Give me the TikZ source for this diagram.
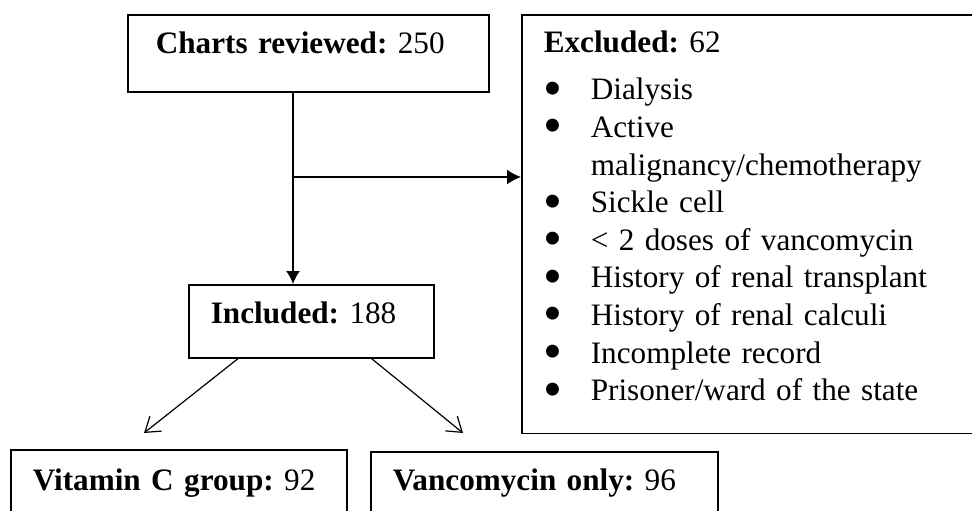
\documentclass[tikz,border=0pt]{standalone}
\usepackage{fontspec}
\setmainfont{Liberation Serif}
\usetikzlibrary{arrows.meta}
\frenchspacing
\newcommand{\xbul}{\makebox[23.5pt][l]{\smash{\raisebox{-3.2pt}{\fontsize{27pt}{0pt}\selectfont\textbullet}}}}

\begin{document}
\begin{tikzpicture}[x=0.5pt, y=-0.5pt, line width=0.8pt,
                    main/.style = {draw, rectangle, anchor=north west, align=left, inner ysep=0pt, inner xsep=11pt,
                                   font=\fontsize{15.6pt}{18.8pt}\selectfont}]
                    \clip (0,0) rectangle (972,510);

                    \node[main, inner xsep=14pt, text width=152.5pt, text height=19.5pt, text depth=19pt] (charts) at (127,14) {\textbf{Charts reviewed:} 250};
                    \node[main, text width=100.5pt, text height=19.5pt, text depth=17pt] (included) at (188,284) {\textbf{Included:} 188};
                    \node[main, text width=146pt, text height=20.5pt, text depth=19pt] (vitc) at (10,449) {\textbf{Vitamin C group:} 92};
                    \node[main, text width=151.5pt, text height=19.5pt, text depth=19pt] (vanco) at (370,451) {\textbf{Vancomycin only:} 96};
                    \node[main, text width=210pt] (excl) at (521,14) {\rule{0pt}{19pt}\textbf{Excluded:} 62\\[4.7pt]
                        \xbul Dialysis\\
                        \xbul Active\\
                        \hspace*{23.5pt}malignancy/chemotherapy\\
                        \xbul Sickle cell\\
                        \xbul < 2 doses of vancomycin\\
                        \xbul History of renal transplant\\
                        \xbul History of renal calculi\\
                        \xbul Incomplete record\\
                        \xbul Prisoner/ward of the state\rule[-16.5pt]{0pt}{16.5pt}};

                    \coordinate (split) at (293,177);

                    \draw[-{Latex[length=6.5pt,width=7pt]}] (charts.south -| split) -- (included.north -| split);
                    \draw[-{Latex[length=7pt,width=7.5pt]}] (split) -- (split -| excl.west);

                    \draw[-{Straight Barb[length=7pt,width=9.5pt]}, line width=0.6pt] ([xshift=25pt]included.south west) -- ([xshift=67pt,yshift=8pt]vitc.north west);
                    \draw[-{Straight Barb[length=7pt,width=9.5pt]}, line width=0.6pt] ([xshift=-31.5pt]included.south east) -- ([xshift=46.5pt,yshift=9pt]vanco.north west);
                \end{tikzpicture}
\end{document}
